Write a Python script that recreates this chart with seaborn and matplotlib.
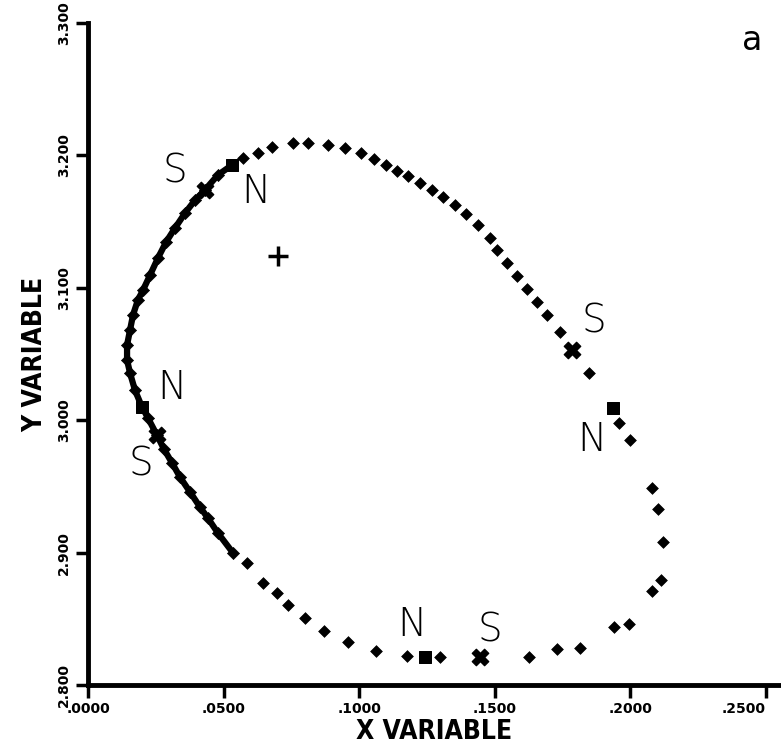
import matplotlib
matplotlib.use("Agg")
import matplotlib.pyplot as plt
import seaborn as sns
import pandas as pd

# Trajectory points (sparse part: top, right side and bottom of the loop)
loop_x = [0.0572, 0.0627, 0.0678, 0.0756, 0.0811, 0.0885, 0.0948, 0.1007, 0.1055, 0.1099,
          0.1139, 0.1180, 0.1224, 0.1268, 0.1309, 0.1353, 0.1394, 0.1438, 0.1482, 0.1508,
          0.1545, 0.1582, 0.1619, 0.1656, 0.1692, 0.1740, 0.1847, 0.1958, 0.1999, 0.2080,
          0.2102, 0.2120, 0.2113, 0.2080, 0.1995, 0.1940, 0.1814, 0.1729, 0.1626, 0.1298,
          0.1176, 0.1062, 0.0959, 0.0870, 0.0800, 0.0737, 0.0697, 0.0645, 0.0586]
loop_y = [3.1980, 3.2018, 3.2063, 3.2094, 3.2094, 3.2079, 3.2056, 3.2018, 3.1973, 3.1927,
          3.1882, 3.1844, 3.1792, 3.1739, 3.1686, 3.1625, 3.1557, 3.1474, 3.1376, 3.1285,
          3.1187, 3.1089, 3.0991, 3.0893, 3.0795, 3.0666, 3.0356, 2.9979, 2.9850, 2.9488,
          2.9329, 2.9080, 2.8793, 2.8710, 2.8461, 2.8438, 2.8279, 2.8272, 2.8211, 2.8211,
          2.8219, 2.8257, 2.8325, 2.8408, 2.8506, 2.8604, 2.8695, 2.8770, 2.8921]

# Dense part of the trajectory (left arc)
arc_x = [0.0535, 0.0479, 0.0442, 0.0413, 0.0376, 0.0339, 0.0310, 0.0280, 0.0254, 0.0221,
         0.0199, 0.0173, 0.0155, 0.0144, 0.0144, 0.0155, 0.0166, 0.0184, 0.0203, 0.0229,
         0.0258, 0.0288, 0.0321, 0.0358, 0.0395, 0.0431, 0.0479, 0.0531]
arc_y = [2.8997, 2.9148, 2.9261, 2.9344, 2.9458, 2.9571, 2.9677, 2.9782, 2.9888, 3.0017,
         3.0100, 3.0228, 3.0356, 3.0455, 3.0568, 3.0681, 3.0795, 3.0908, 3.0983, 3.1097,
         3.1225, 3.1346, 3.1452, 3.1565, 3.1663, 3.1739, 3.1852, 3.1927]

# S (cross) and N (square) marks
s_x = [0.0431, 0.1785, 0.0254, 0.1445]
s_y = [3.1739, 3.0530, 2.9888, 2.8211]
n_x = [0.0531, 0.1936, 0.0199, 0.1243]
n_y = [3.1927, 3.0092, 3.0100, 2.8211]

# label text positions
s_lab_x = [0.0321, 0.1866, 0.0195, 0.1482]
s_lab_y = [3.1875, 3.0742, 2.9662, 2.8408]
n_lab_x = [0.0619, 0.1858, 0.0310, 0.1195]
n_lab_y = [3.1724, 2.9850, 3.0243, 2.8453]

center_x, center_y = 0.0701, 3.1240

x_ticks = [0.0, 0.05, 0.10, 0.15, 0.20, 0.25]
x_tick_labels = [".0000", ".0500", ".1000", ".1500", ".2000", ".2500"]
y_ticks = [2.8, 2.9, 3.0, 3.1, 3.2, 3.3]
y_tick_labels = ["2.800", "2.900", "3.000", "3.100", "3.200", "3.300"]

sns.set_style("ticks")
plt.rcParams['font.family'] = ['DejaVu Sans']
plt.rcParams['text.color'] = 'black'

fig = plt.figure(figsize=(7.81, 7.49), dpi=100)
ax = fig.add_axes([88 / 781, 64 / 749, 693 / 781, 662 / 749])

loop_df = pd.DataFrame({"x": loop_x, "y": loop_y})
arc_df = pd.DataFrame({"x": arc_x, "y": arc_y})

# thick line for the dense arc, then the dot markers
sns.lineplot(data=arc_df, x="x", y="y", sort=False, estimator=None, errorbar=None,
             color="black", linewidth=4.5, ax=ax)
sns.scatterplot(data=arc_df, x="x", y="y", marker="D", s=38, color="black", edgecolor="black", ax=ax)
sns.scatterplot(data=loop_df, x="x", y="y", marker="D", s=36, color="black", edgecolor="black", ax=ax)
sns.scatterplot(x=s_x, y=s_y, marker="X", s=140, color="black", edgecolor="black", ax=ax)
sns.scatterplot(x=n_x, y=n_y, marker="s", s=80, color="black", edgecolor="black", ax=ax)
ax.plot([center_x], [center_y], marker="+", markersize=14, markeredgewidth=2.5, color="black")

for x, y in zip(s_lab_x, s_lab_y):
    ax.text(x, y, "S", fontsize=28, fontweight="light", ha="center", va="center", color="black")
for x, y in zip(n_lab_x, n_lab_y):
    ax.text(x, y, "N", fontsize=28, fontweight="light", ha="center", va="center", color="black")

fig.text(752 / 781, 1 - 40 / 749, "a", fontsize=24, ha="center", va="center", color="black")

ax.set_xlim(0, 693 / 2712)
ax.set_ylim(2.8, 3.3)
ax.set_xticks(x_ticks)
ax.set_xticklabels(x_tick_labels, fontsize=10, fontweight="bold")
ax.get_xticklabels()[-1].set_ha("right")
ax.set_yticks(y_ticks)
ax.set_yticklabels(y_tick_labels, fontsize=10, fontweight="bold", rotation=90, va="center")
ax.tick_params(direction="out", length=9, width=2.5, colors="black", labelcolor="black")

sns.despine(ax=ax)
for side in ["left", "bottom"]:
    ax.spines[side].set_linewidth(3.5)
    ax.spines[side].set_color("black")

ax.set_xlabel("X VARIABLE", fontsize=19, fontweight="bold", fontstretch="condensed",
              labelpad=2, color="black")
ax.set_ylabel("Y VARIABLE", fontsize=19, fontweight="bold", fontstretch="condensed",
              labelpad=6, color="black")

fig.savefig("out.png", dpi=100)
